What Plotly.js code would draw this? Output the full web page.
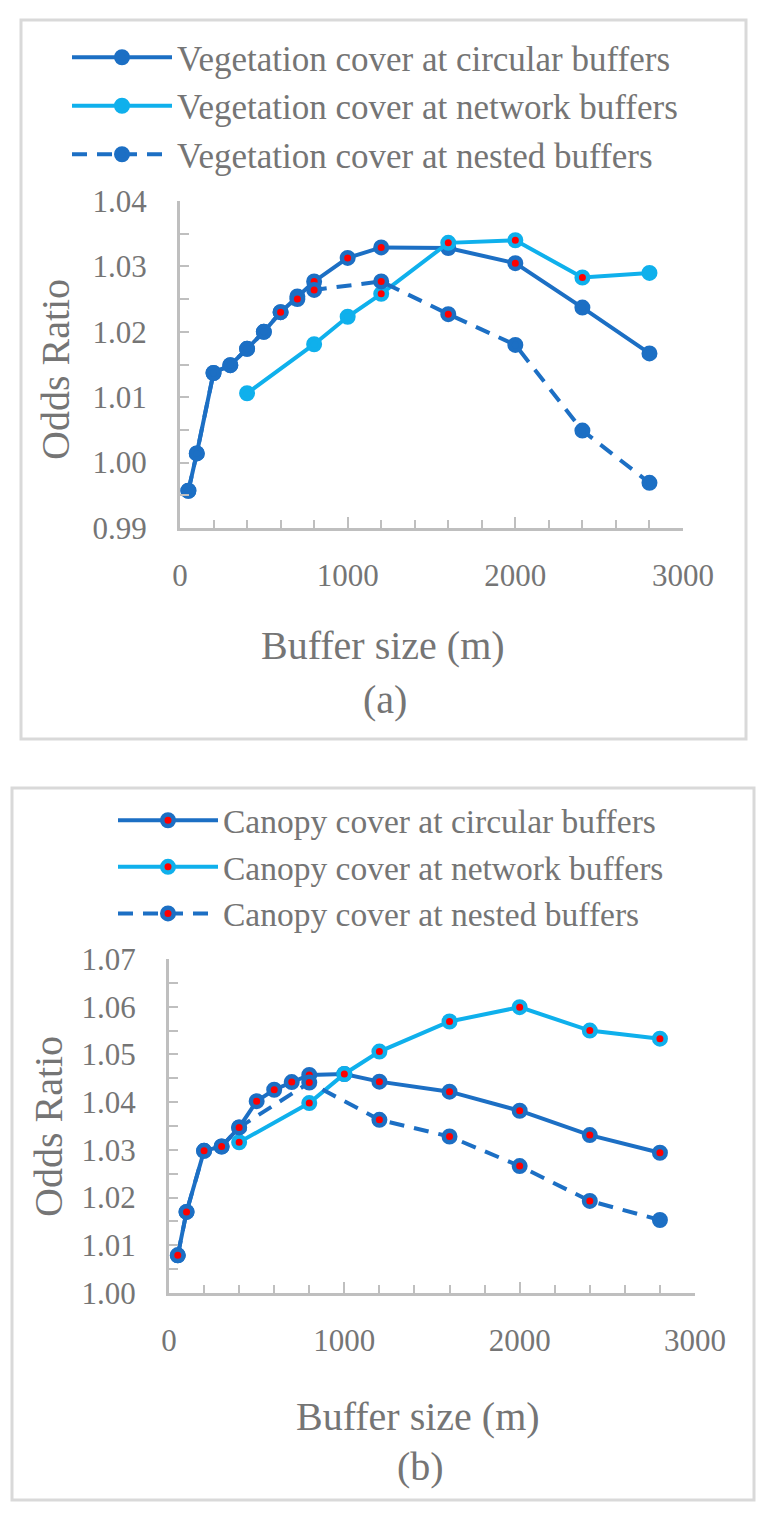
<!DOCTYPE html>
<html><head><meta charset="utf-8">
<script src="https://cdn.plot.ly/plotly-3.0.1.min.js"></script>
<style>html,body{margin:0;padding:0;background:#fff}#chart{width:767px;height:1514px}</style>
</head><body><div id="chart"></div>
<script>
const W = 767, H = 1514;

// ---------- Panel (a): vegetation cover ----------
const vegCircularX = [50,100,200,300,400,500,600,700,800,1000,1200,1600,2000,2400,2800];
const vegCircularY = [0.9957,1.0014,1.0137,1.0149,1.0174,1.0200,1.0230,1.0254,1.0277,1.0313,1.0329,1.0328,1.0305,1.0237,1.0167];
const vegCircularSig = [0,0,0,0,0,0,1,1,1,1,1,0,1,0,0];

const vegNetworkX = [400,800,1000,1200,1600,2000,2400,2800];
const vegNetworkY = [1.0106,1.0181,1.0223,1.0258,1.0336,1.0340,1.0283,1.0290];
const vegNetworkSig = [0,0,0,1,1,1,1,0];

const vegNestedX = [50,100,200,300,400,500,600,700,800,1200,1600,2000,2400,2800];
const vegNestedY = [0.9957,1.0014,1.0137,1.0149,1.0174,1.0200,1.0230,1.0250,1.0264,1.0277,1.0227,1.0180,1.0049,0.9969];
const vegNestedSig = [0,0,0,0,0,0,1,1,1,1,1,0,0,0];

// ---------- Panel (b): canopy cover ----------
const canCircularX = [50,100,200,300,400,500,600,700,800,1000,1200,1600,2000,2400,2800];
const canCircularY = [1.0079,1.0170,1.0298,1.0307,1.0347,1.0402,1.0426,1.0442,1.0457,1.0459,1.0443,1.0422,1.0382,1.0331,1.0294];
const canCircularSig = [1,1,1,1,1,1,1,1,1,1,1,1,1,1,1];

const canNetworkX = [400,800,1000,1200,1600,2000,2400,2800];
const canNetworkY = [1.0316,1.0398,1.0459,1.0506,1.0569,1.0599,1.0550,1.0533];
const canNetworkSig = [1,1,1,1,1,1,1,1];

const canNestedX = [50,100,200,300,400,800,1200,1600,2000,2400,2800];
const canNestedY = [1.0079,1.0170,1.0298,1.0307,1.0347,1.0441,1.0363,1.0328,1.0266,1.0193,1.0153];
const canNestedSig = [1,1,1,1,1,1,1,1,1,1,0];

const namesA = ['Vegetation cover at circular buffers','Vegetation cover at network buffers','Vegetation cover at nested buffers'];
const namesB = ['Canopy cover at circular buffers','Canopy cover at network buffers','Canopy cover at nested buffers'];
const xTicks = [0,1000,2000,3000];

const DARK = '#1c6fc4', LIGHT = '#0fb0ec', RED = '#ff0000', GREY = '#757575', AXIS = '#bfbfbf';
const FONT = 'Liberation Serif, Times New Roman, serif';

function series(x, y, sig, name, color, dash, xa, ya, leg) {
  return {
    type: 'scatter', mode: 'lines+markers', x: x, y: y, name: name,
    xaxis: xa, yaxis: ya, legend: leg, cliponaxis: false,
    line: {color: color, width: 4, dash: dash},
    marker: {size: 11.5, color: sig.map(s => s ? RED : color), line: {color: color, width: 4.5}}
  };
}

const traces = [
  series(vegCircularX, vegCircularY, vegCircularSig, namesA[0], DARK, 'solid', 'x', 'y', 'legend'),
  series(vegNetworkX, vegNetworkY, vegNetworkSig, namesA[1], LIGHT, 'solid', 'x', 'y', 'legend'),
  series(vegNestedX, vegNestedY, vegNestedSig, namesA[2], DARK, '15px,10px', 'x', 'y', 'legend'),
  series(canCircularX, canCircularY, canCircularSig, namesB[0], DARK, 'solid', 'x2', 'y2', 'legend2'),
  series(canNetworkX, canNetworkY, canNetworkSig, namesB[1], LIGHT, 'solid', 'x2', 'y2', 'legend2'),
  series(canNestedX, canNestedY, canNestedSig, namesB[2], DARK, '15px,10px', 'x2', 'y2', 'legend2')
];

const axisBase = {
  showline: true, linecolor: AXIS, linewidth: 3, showgrid: false, zeroline: false,
  ticks: 'inside', tickcolor: AXIS, tickwidth: 2, fixedrange: true,
  tickfont: {family: FONT, size: 31, color: GREY}
};
function xAxis(dom, anchor) {
  return Object.assign({}, axisBase, {
    domain: dom, anchor: anchor, range: [0, 3000], tickmode: 'array', tickvals: xTicks,
    ticktext: xTicks.map(String), ticklen: 11, ticklabelstandoff: 18,
    minor: {dtick: 200, tick0: 0, ticks: 'inside', ticklen: 8, tickcolor: AXIS, tickwidth: 2, showgrid: false}
  });
}
function yAxis(dom, anchor, range) {
  return Object.assign({}, axisBase, {
    domain: dom, anchor: anchor, range: range, dtick: 0.01, tick0: 1, tickformat: '.2f',
    ticklen: 9, ticklabelstandoff: 24,
    minor: {dtick: 0.005, tick0: 1, ticks: 'inside', ticklen: 9, tickcolor: AXIS, tickwidth: 2, showgrid: false}
  });
}

function ann(text, xpx, ypx, size, angle) {
  return {text: text, xref: 'paper', yref: 'paper', x: xpx / W, y: 1 - ypx / H,
    xanchor: 'center', yanchor: 'middle', showarrow: false, textangle: angle || 0,
    font: {family: FONT, size: size, color: GREY}};
}
function box(x0, y0, x1, y1) {
  return {type: 'rect', xref: 'paper', yref: 'paper', x0: x0 / W, x1: x1 / W, y0: 1 - y1 / H, y1: 1 - y0 / H,
    line: {color: '#d9d9d9', width: 3}, fillcolor: 'rgba(0,0,0,0)', layer: 'below'};
}

const layout = {
  width: W, height: H, margin: {l: 0, r: 0, t: 0, b: 0},
  paper_bgcolor: '#ffffff', plot_bgcolor: 'rgba(0,0,0,0)',
  font: {family: FONT, color: GREY, size: 28},
  showlegend: true,
  xaxis: xAxis([180 / W, 683 / W], 'y'),
  yaxis: yAxis([1 - 528 / H, 1 - 201 / H], 'x', [0.99, 1.04]),
  xaxis2: xAxis([169 / W, 695 / W], 'y2'),
  yaxis2: yAxis([1 - 1293 / H, 1 - 959 / H], 'x2', [1.00, 1.07]),
  legend: {x: 67 / W, y: 1 - 28 / H, xanchor: 'left', yanchor: 'top', bgcolor: 'rgba(0,0,0,0)',
    itemwidth: 100, font: {family: FONT, size: 35, color: GREY}},
  legend2: {x: 113 / W, y: 1 - 792 / H, xanchor: 'left', yanchor: 'top', bgcolor: 'rgba(0,0,0,0)',
    itemwidth: 100, font: {family: FONT, size: 33.5, color: GREY}},
  shapes: [box(21, 20, 746, 739), box(12, 788, 754, 1500)],
  annotations: [
    ann('Odds Ratio', 55, 370, 40, -90),
    ann('Buffer size (m)', 383, 645, 40),
    ann('(a)', 385, 700, 40),
    ann('Odds Ratio', 48, 1127, 40, -90),
    ann('Buffer size (m)', 418, 1416, 40),
    ann('(b)', 420, 1466, 40)
  ]
};

Plotly.newPlot('chart', traces, layout, {staticPlot: true, displayModeBar: false});
</script>
</body></html>
